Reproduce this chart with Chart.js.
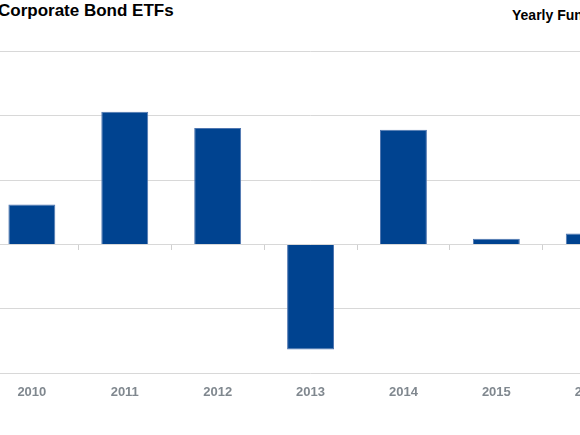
<!DOCTYPE html>
<html>
<head>
<meta charset="utf-8">
<script src="https://cdn.jsdelivr.net/npm/chart.js@4.4.1/dist/chart.umd.min.js"></script>
<style>
  html, body { margin: 0; padding: 0; background: #fff; }
  body { width: 580px; height: 435px; overflow: hidden; position: relative; font-family: "Liberation Sans", Arial, sans-serif; }
  #wrap { position: absolute; left: -20px; top: 0; width: 680px; height: 435px; }
  .title { position: absolute; font-weight: bold; color: #000; white-space: nowrap; }
  #t1 { left: -2px; top: 2px; font-size: 17px; line-height: 17px; }
  #t2 { left: 512px; top: 8px; font-size: 14px; line-height: 14px; }
</style>
</head>
<body>
<div id="t1" class="title">Corporate Bond ETFs</div>
<div id="t2" class="title">Yearly Fund Flows</div>
<div id="wrap"><canvas id="chart"></canvas></div>
<script>
// yearly flows (gridline step = 10)
const years = ["2010", "2011", "2012", "2013", "2014", "2015", "2016"];
const flows = [6.2, 20.6, 18.1, -16.3, 17.8, 0.9, 1.7];
const yMin = -20;
const yMax = 30;
const yStep = 10;

const ctx = document.getElementById("chart").getContext("2d");
new Chart(ctx, {
  type: "bar",
  data: {
    labels: years,
    datasets: [
      {
        label: "Fund flows",
        data: flows,
        backgroundColor: "#004390",
        borderColor: "#4f76b0",
        borderWidth: 1,
        barPercentage: 0.505,
        categoryPercentage: 1.0,
      },
    ],
  },
  options: {
    responsive: true,
    maintainAspectRatio: false,
    animation: false,
    layout: { padding: { left: 5.4, right: 24.3, top: 51.3, bottom: 0 } },
    plugins: {
      legend: { display: false },
      tooltip: { enabled: false },
    },
    scales: {
      x: {
        position: "bottom",
        grid: { display: false },
        border: { display: false },
        ticks: {
          color: "#80888f",
          font: { family: "Liberation Sans", size: 13, weight: "bold" },
          padding: 3,
        },
        afterFit: (s) => { s.height = 435 - 373.3; },
      },
      // small tick marks along the zero line
      xZero: {
        type: "category",
        axis: "x",
        labels: years,
        offset: true,
        position: { y: 0 },
        grid: {
          offset: true,
          drawOnChartArea: false,
          drawTicks: true,
          tickLength: 5,
          color: "#d0d0d0",
        },
        border: { display: false },
        ticks: { display: false },
      },
      y: {
        min: yMin,
        max: yMax,
        ticks: { display: false, stepSize: yStep },
        grid: { color: "#d8d8d8", drawTicks: false },
        border: { display: false },
        afterFit: (s) => { s.width = 0; },
      },
    },
  },
});
</script>
</body>
</html>
